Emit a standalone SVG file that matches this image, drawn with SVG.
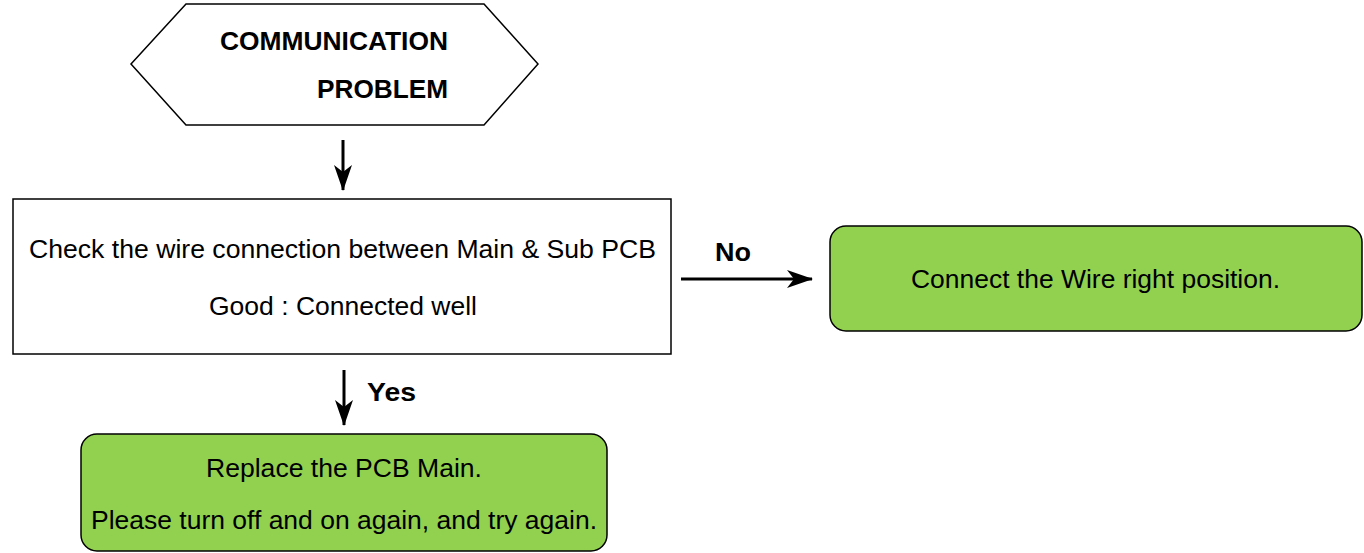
<svg xmlns="http://www.w3.org/2000/svg" width="1364" height="553" viewBox="0 0 1364 553">
  <style>
    .lbl { font-family: "Liberation Sans", Arial, sans-serif; font-size: 25px; fill: #000; }
    .bold { font-weight: bold; }
    .box { fill: #fff; stroke: #000; stroke-width: 1.5; }
    .ok { fill: #92D050; stroke: #000; stroke-width: 1.5; }
    .wire { stroke: #000; stroke-width: 3; fill: none; marker-end: url(#head); }
  </style>
  <defs>
    <marker id="head" viewBox="0 0 26 20" refX="25" refY="10" markerWidth="26" markerHeight="20" markerUnits="userSpaceOnUse" orient="auto">
      <path d="M0,1 L26,10 L0,19 L7,10 Z" fill="#000"/>
    </marker>
  </defs>

  <g id="start">
    <polygon class="box" points="131,64 186,4 484,4 538,64 484,125 186,125"/>
    <text class="lbl bold" x="448" y="50" text-anchor="end" textLength="228" lengthAdjust="spacingAndGlyphs">COMMUNICATION</text>
    <text class="lbl bold" x="448" y="98" text-anchor="end" textLength="131" lengthAdjust="spacingAndGlyphs">PROBLEM</text>
  </g>

  <g id="check">
    <rect class="box" x="13" y="199" width="658" height="155"/>
    <text class="lbl" x="342.5" y="258" text-anchor="middle" textLength="627" lengthAdjust="spacingAndGlyphs">Check the wire connection between Main &amp; Sub PCB</text>
    <text class="lbl" x="343" y="315" text-anchor="middle" textLength="268" lengthAdjust="spacingAndGlyphs">Good : Connected well</text>
  </g>

  <g id="fix-wire">
    <rect class="ok" x="830" y="226" width="532" height="105" rx="16"/>
    <text class="lbl" x="1095.5" y="288" text-anchor="middle" textLength="369" lengthAdjust="spacingAndGlyphs">Connect the Wire right position.</text>
  </g>

  <g id="replace-pcb">
    <rect class="ok" x="81" y="434" width="526" height="117" rx="16"/>
    <text class="lbl" x="344" y="477" text-anchor="middle" textLength="276" lengthAdjust="spacingAndGlyphs">Replace the PCB Main.</text>
    <text class="lbl" x="344" y="529" text-anchor="middle" textLength="506" lengthAdjust="spacingAndGlyphs">Please turn off and on again, and try again.</text>
  </g>

  <g id="connectors">
    <path class="wire" d="M343,140 V190"/>
    <path class="wire" d="M681,279 H812"/>
    <text class="lbl bold" x="733" y="261" text-anchor="middle" textLength="36" lengthAdjust="spacingAndGlyphs">No</text>
    <path class="wire" d="M344,370 V425"/>
    <text class="lbl bold" x="391.5" y="401" text-anchor="middle" textLength="49" lengthAdjust="spacingAndGlyphs">Yes</text>
  </g>
</svg>
